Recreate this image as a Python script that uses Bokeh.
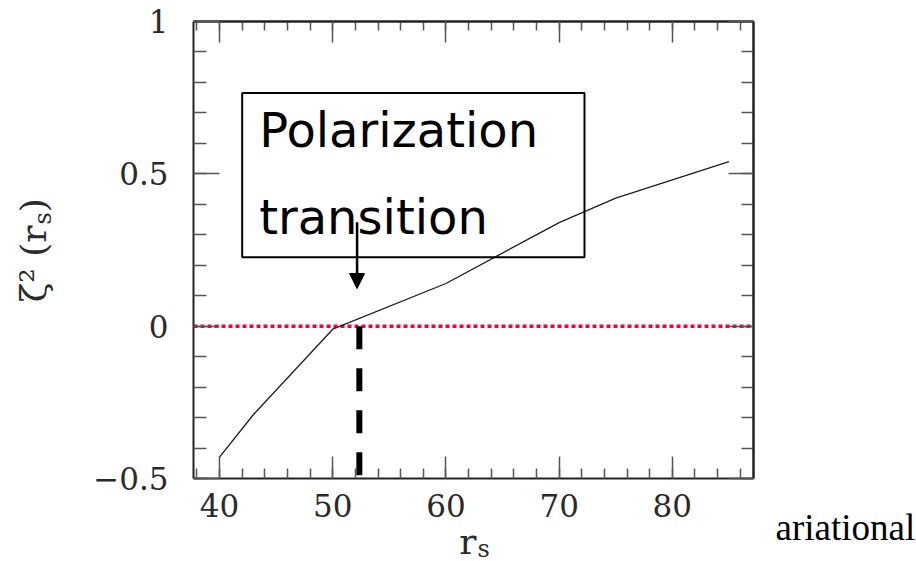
import numpy as np
from math import pi

from bokeh.plotting import figure
from bokeh.models import LinearAxis, FixedTicker, BoxAnnotation, Arrow, NormalHead, Label
from bokeh.core.properties import value
from bokeh.embed import file_html
from bokeh.resources import INLINE

# zeta^2 as a function of r_s
rs = [40, 43, 50, 60, 70, 75, 85]
zeta2 = [-0.43, -0.29, -0.01, 0.14, 0.34, 0.42, 0.54]

# axis ticks and labels
x_major = [40, 50, 60, 70, 80]
x_labels = ["40", "50", "60", "70", "80"]
y_major = [-0.5, 0, 0.5, 1]
y_labels = ["\u22120.5", "0", "0.5", "1"]
x_minor = list(np.arange(38, 88, 2))
y_minor = list(np.round(np.arange(-0.5, 1.01, 0.1), 2))

# annotation of the polarization transition
transition_rs = 52.35
arrow_rs = 52.15
box_lines = ["Polarization", "transition"]
side_text = "ariational"

# plot box limits
x_lo, x_hi = 37.7, 87.17
y_lo, y_hi = -0.5, 1.0

W, H = 916, 561
BOX_L, BOX_R, BOX_T, BOX_B = 193, 753, 21, 478   # box edges on the canvas
sx = (BOX_R - BOX_L) / (x_hi - x_lo)
sy = (BOX_B - BOX_T) / (y_hi - y_lo)
x_range = (x_lo - BOX_L / sx, x_hi + (W - BOX_R) / sx)
y_range = (y_lo - (H - BOX_B) / sy, y_hi + BOX_T / sy)

TICK_FONT = "DejaVu Serif"
TEXT_COLOR = "#2a2a2a"
AXIS_COLOR = "#222222"
TICK_COLOR = "#555555"

p = figure(width=W, height=H, x_range=x_range, y_range=y_range,
           x_axis_location=None, y_axis_location=None,
           min_border=0, output_backend="svg", toolbar_location=None)
p.grid.visible = False
p.outline_line_color = None
p.background_fill_color = "white"
p.border_fill_color = "white"


def add_axis(side, loc, bounds, major, minor, maj_len, min_len, labels=None):
    ax = LinearAxis(fixed_location=loc, bounds=bounds)
    ax.ticker = FixedTicker(ticks=major, minor_ticks=minor)
    ax.axis_line_color = AXIS_COLOR
    ax.axis_line_width = 2
    ax.major_tick_line_color = TICK_COLOR
    ax.minor_tick_line_color = TICK_COLOR
    ax.major_tick_line_width = 1.5
    ax.minor_tick_line_width = 1.5
    ax.major_tick_in = maj_len
    ax.major_tick_out = 0
    ax.minor_tick_in = min_len
    ax.minor_tick_out = 0
    if labels is not None:
        ax.major_label_overrides = {t: s for t, s in zip(major, labels)}
        ax.major_label_text_font = TICK_FONT
        ax.major_label_text_font_size = "31px"
        ax.major_label_text_color = TEXT_COLOR
    p.add_layout(ax, side)
    return ax


# labelled axes
xb = add_axis("below", y_lo, (x_lo, x_hi), x_major, x_minor, 22, 10, x_labels)
xb.major_label_standoff = 15
yl = add_axis("left", x_lo, (y_lo, y_hi), y_major, y_minor, 26, 13, y_labels)
yl.major_label_standoff = 25

# mirrored tick marks on the top and right edges (no labels)
add_axis("above", y_hi, (x_lo, x_hi), [], x_minor, 0, 9)
add_axis("above", y_hi, (x_lo, x_hi), [], x_major, 0, 21)
add_axis("right", x_hi, (y_lo, y_hi), [], y_minor, 0, 12)
add_axis("right", x_hi, (y_lo, y_hi), [], y_major, 0, 25)

# the zero level
p.segment(x0=[x_lo], y0=[0], x1=[x_hi], y1=[0], line_color="#f5003d",
          line_width=3.5, line_dash="4 3")

# the curve
p.line(rs, zeta2, line_color="#1c1c24", line_width=1.3)

# transition marker
p.line([transition_rs, transition_rs], [0, y_lo], line_color="black",
       line_width=6, line_dash="23 19")

# boxed caption with arrow
p.add_layout(BoxAnnotation(left=42.0, right=72.24, bottom=0.2265, top=0.765,
                           fill_color=None, line_color="black", line_width=2,
                           line_alpha=1))
p.text(x=[43.5, 43.5], y=[0.6424, 0.3577], text=box_lines,
       text_font=value("DejaVu Sans"), text_font_size="48px",
       text_color="black", text_align="left", text_baseline="alphabetic")
p.add_layout(Arrow(end=NormalHead(size=15, fill_color="black", line_color="black"),
                   x_start=arrow_rs, y_start=0.341, x_end=arrow_rs, y_end=0.1234,
                   line_color="black", line_width=2.5))

# axis titles, in canvas pixels (y measured up from the bottom edge)
lab = dict(x_units="screen", y_units="screen", text_font=TICK_FONT,
           text_color=TEXT_COLOR, text_baseline="alphabetic")
p.add_layout(Label(x=33, y=H - 225, text="\u03b6\u00b2 (r", angle=pi / 2,
                   text_align="right", text_font_size="36px", **lab))
p.add_layout(Label(x=42, y=H - 224, text="s", angle=pi / 2,
                   text_align="left", text_font_size="24px", **lab))
p.add_layout(Label(x=33, y=H - 211.7, text=")", angle=pi / 2,
                   text_align="left", text_font_size="36px", **lab))

p.add_layout(Label(x=476, y=H - 541, text="r", text_align="right",
                   text_font_size="36px", **lab))
p.add_layout(Label(x=477, y=H - 548, text="s", text_align="left",
                   text_font_size="24px", **lab))

p.add_layout(Label(x=775, y=H - 527, text=side_text, x_units="screen", y_units="screen",
                   text_font="Liberation Serif", text_font_size="37px",
                   text_color="black", text_align="left", text_baseline="alphabetic"))

open("out.html", "w").write(file_html(p, INLINE))
